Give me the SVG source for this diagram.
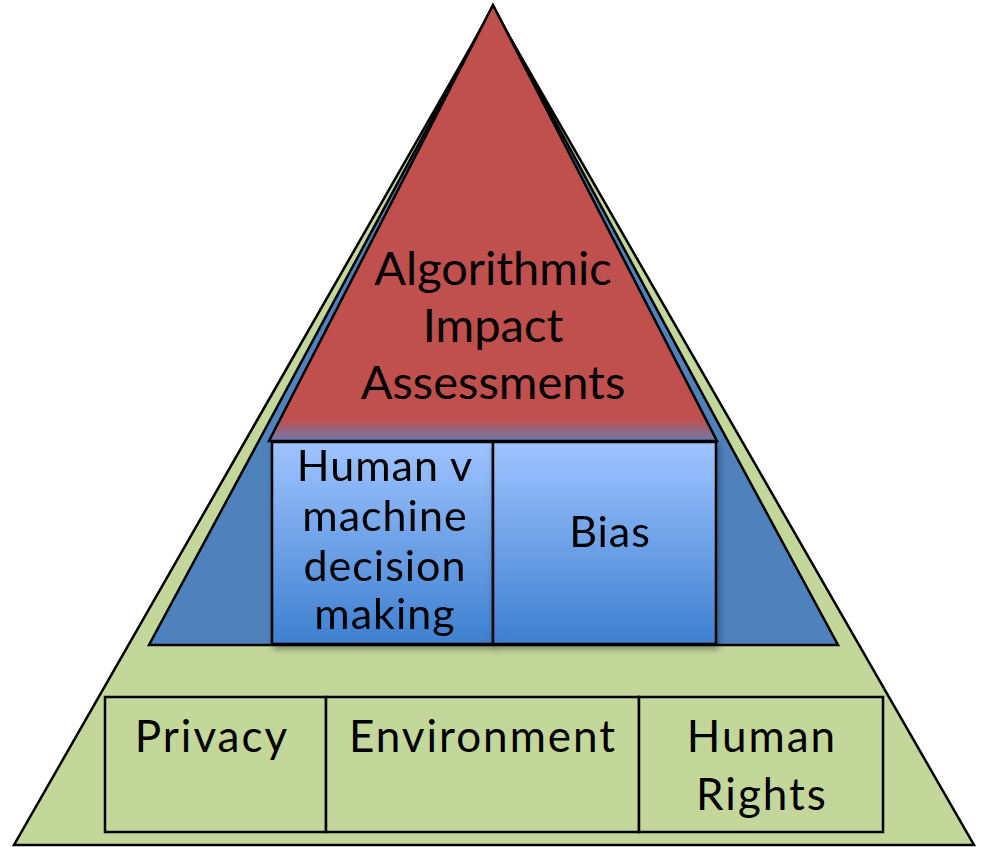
<svg xmlns="http://www.w3.org/2000/svg" width="984" height="847" viewBox="0 0 984 847">
<style>
.t{font-family:Lato,"Open Sans","DejaVu Sans",sans-serif;fill:#000;text-anchor:middle}
.big{font-size:47px}
.mid{font-size:43px;letter-spacing:1px}
.bot{font-size:44px;letter-spacing:2px}
.ln{stroke:#000;stroke-width:2.5;stroke-linejoin:miter}
</style>
<defs>
<linearGradient id="redg" gradientUnits="userSpaceOnUse" x1="0" y1="5" x2="0" y2="441">
<stop offset="0" stop-color="#C0504D"/>
<stop offset="0.95" stop-color="#C0504D"/>
<stop offset="1" stop-color="#6B7BB0"/>
</linearGradient>
<linearGradient id="boxg" x1="0" y1="0" x2="0" y2="1">
<stop offset="0" stop-color="#9FC4FF"/>
<stop offset="1" stop-color="#3E7FCF"/>
</linearGradient>
<filter id="sh" x="-5%" y="-5%" width="115%" height="120%">
<feDropShadow dx="2" dy="4" stdDeviation="3" flood-color="#000" flood-opacity="0.35"/>
</filter>
</defs>
<g id="green-tier">
<polygon class="ln" points="493,8 974,845 14,845" fill="#C4D79B"/>
</g>
<g id="blue-tier">
<polygon class="ln" points="493,6 838,645 149,645" fill="#4F81BD" stroke-width="2"/>
</g>
<g id="red-tier">
<polygon class="ln" points="493,5 717,441 269,441" fill="url(#redg)"/>
<text class="t big" x="493" y="285">Algorithmic</text>
<text class="t big" x="493" y="342">Impact</text>
<text class="t big" x="493" y="399">Assessments</text>
</g>
<g id="human-v-machine" filter="url(#sh)">
<rect class="ln" x="272" y="442" width="221" height="202" fill="url(#boxg)"/>
<text class="t mid" x="385" y="481">Human v</text>
<text class="t mid" x="385" y="531">machine</text>
<text class="t mid" x="385" y="581">decision</text>
<text class="t mid" x="385" y="629">making</text>
</g>
<g id="bias" filter="url(#sh)">
<rect class="ln" x="493" y="442" width="223" height="202" fill="url(#boxg)"/>
<text class="t mid" x="610" y="547">Bias</text>
</g>
<g id="privacy">
<rect class="ln" x="105" y="697" width="221" height="135" fill="#C4D79B"/>
<text class="t bot" x="212" y="752">Privacy</text>
</g>
<g id="environment">
<rect class="ln" x="326" y="697" width="313" height="135" fill="#C4D79B"/>
<text class="t bot" x="483" y="752">Environment</text>
</g>
<g id="human-rights">
<rect class="ln" x="639" y="697" width="244" height="135" fill="#C4D79B"/>
<text class="t bot" x="762" y="752">Human</text>
<text class="t bot" x="762" y="810">Rights</text>
</g>
<g id="connectors"/>
</svg>
